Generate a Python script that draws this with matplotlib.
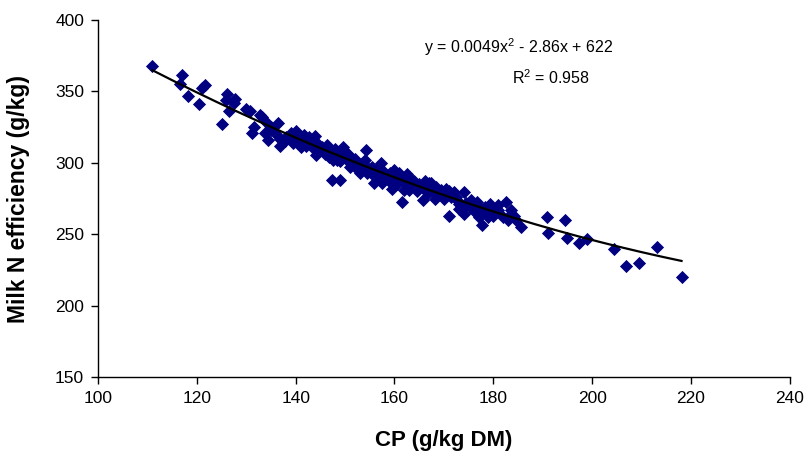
import matplotlib
matplotlib.use("Agg")
import matplotlib.pyplot as plt
import numpy as np

plt.rcParams['font.family'] = ['Liberation Sans', 'DejaVu Sans']
plt.rcParams['mathtext.default'] = 'regular'

cp = [111, 117, 116.5, 118.3, 120.4, 121, 121.7, 125, 126.2, 126, 126.6, 127.7, 127.5,
      129.9, 130.8, 131.1, 131.6, 132.7, 133.2, 134.2, 133.7, 135.1, 136.4, 136.9, 136.9,
      137.9, 139, 140, 139.5, 140.6, 141, 141.6, 142.1, 142.7, 143.2, 143.9, 143.7, 144.2,
      145.3, 145.8, 146.3, 146.8, 147.4, 147.9, 148.4, 148.9, 148.9, 149.5, 150, 150.5,
      151, 151.5, 152, 152.6, 153.1, 153.6, 154.2, 154.7, 155.2, 155.8, 156.3, 156.8,
      157.3, 157.9, 158.4, 158.9, 159.4, 160, 160.5, 161, 161.5, 161.7, 162, 162.6, 163.1,
      163.6, 165.2, 165.7, 166.2, 166.8, 167.3, 167.8, 168.3, 168.9, 169.9, 170.5, 171,
      171.5, 172, 172.6, 173.1, 173.6, 174.1, 174.1, 175.2, 176.2, 176.7, 177.2, 177.7,
      178.3, 178.8, 179.3, 179.8, 180.4, 180.9, 182.5, 183, 183.5, 184.1, 185.6, 190.9,
      191.1, 194.5, 195, 197.4, 199, 204.5, 206.8, 209.4, 213.1, 218.1,
      138, 139, 140.5, 141.5, 142, 143, 144.5, 145, 146, 147, 147.5, 148, 149, 150.5,
      151.5, 152, 153, 154, 154.5, 155.5, 156, 157, 157.5, 158, 159, 159.5, 160.5, 161,
      162.5, 163, 164, 164.5, 165, 166, 167, 168, 168.5, 169.5, 170, 171, 172.5, 173,
      174.5, 175.5, 176, 177, 178, 179, 180, 181, 182, 183.5, 184.5, 136, 135, 134.5]
eff = [368, 361.6, 355.5, 346.8, 341, 352.4, 354.8, 327, 348, 344, 336, 345, 342,
       338, 336.5, 321, 325, 333.7, 332, 328, 321, 323, 328, 317, 312,
       315, 321, 322, 314, 316, 311, 319.6, 317, 318, 314, 318.6, 310, 305.5,
       311, 308, 312.6, 304, 288, 310, 302, 288, 306.7, 311, 304, 301,
       297, 302, 298.5, 295, 292.6, 299.7, 309, 296, 292.6, 285.6, 295, 290,
       299.7, 293.8, 291.5, 287, 282, 295, 289, 292.6, 272.7, 287, 281, 290, 284.4,
       288, 283, 274, 287, 278.6, 285.6, 281, 275, 279.7, 277.4, 282, 263,
       276, 279.7, 274, 271.5, 268, 279.7, 264.5, 269, 265.7, 272.7, 262, 256.3,
       269, 264.5, 271.5, 266.8, 268, 270.4, 272.7, 259.8, 266.8, 263, 255, 262,
       251, 259.8, 247.6, 244, 247, 240, 227.5, 230, 241, 220,
       318, 317, 320, 314, 312, 316, 313, 309, 306, 308, 302, 305, 301, 306,
       299, 303, 297, 302, 293, 297, 291, 295, 286, 289, 293, 287, 285, 289,
       292, 281, 287, 280, 285, 282, 286, 279, 283, 281, 275, 280, 276, 268,
       272, 274, 268, 270, 266, 262, 263, 267, 262, 264, 260, 320, 325, 316]

# quadratic trend y = a x^2 + b x + c (from the chart's equation)
coef = [0.0049, -2.86, 622]

fig = plt.figure(figsize=(8.1, 4.57), dpi=100)
ax = fig.add_axes([0.121, 0.175, 0.854, 0.781])

ax.scatter(cp, eff, marker='D', s=45, color='#000080', linewidths=0, zorder=2)

xs = np.linspace(min(cp), max(cp), 200)
ax.plot(xs, np.polyval(coef, xs), color='black', lw=1.6, zorder=3)

ax.set_xlim(100, 240)
ax.set_ylim(150, 400)
ax.set_xticks(np.arange(100, 241, 20))
ax.set_yticks(np.arange(150, 401, 50))
for s in ['top', 'right']:
    ax.spines[s].set_visible(False)
for s in ['left', 'bottom']:
    ax.spines[s].set_linewidth(1.0)
ax.tick_params(direction='out', length=5, width=1, labelsize=12.5, pad=5)

ax.set_xlabel('CP (g/kg DM)', fontsize=16, fontweight='bold')
ax.set_ylabel('Milk N efficiency (g/kg)', fontsize=16.5, fontweight='bold')
ax.xaxis.set_label_coords(0.5, -0.148)
ax.yaxis.set_label_coords(-0.099, 0.5)

ax.text(0.608, 0.924, 'y = 0.0049x$^2$ - 2.86x + 622', transform=ax.transAxes,
        ha='center', va='center', fontsize=11.5)
ax.text(0.655, 0.838, 'R$^2$ = 0.958', transform=ax.transAxes,
        ha='center', va='center', fontsize=11.5)

fig.savefig('out.png', dpi=100)
